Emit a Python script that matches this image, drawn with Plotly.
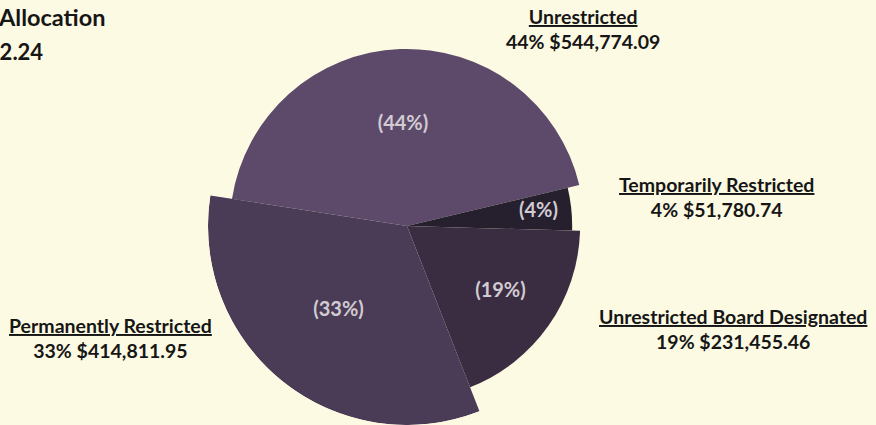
import plotly.graph_objects as go

categories = ["Unrestricted", "Temporarily Restricted", "Unrestricted Board Designated", "Permanently Restricted"]
amounts = [544774.09, 51780.74, 231455.46, 414811.95]
slice_radius = [178, 166, 174, 200]
slice_colors = ["#5d4a6b", "#261f2e", "#3a2d42", "#4a3b56"]
title_text = "Allocation"

label_r_frac = [0.57, 0.80, 0.66, 0.55]
# outer label positions in pixels (x center, y center)
label_pos_px = [(583, 29), (716, 197), (733, 328.5), (110, 338)]

W, H = 876, 425
BG = "#fdfae3"
FONT = "Lato"
total = sum(amounts)
pcts = [round(a / total * 100) for a in amounts]

spans = [a / total * 360 for a in amounts]
centers = []
acc = 0
for s in spans:
    centers.append(acc + s / 2)
    acc += s

fig = go.Figure()
fig.add_trace(go.Barpolar(
    r=slice_radius, theta=centers, width=spans,
    marker=dict(color=slice_colors, line=dict(width=0)),
    hoverinfo="skip", showlegend=False,
))
fig.add_trace(go.Scatterpolar(
    r=[f * r for f, r in zip(label_r_frac, slice_radius)], theta=centers,
    mode="text", text=[f"<b>({p}%)</b>" for p in pcts],
    textfont=dict(family=FONT, size=20, color="#d2cbd2"),
    hoverinfo="skip", showlegend=False,
))

annotations = []
for cat, amt, p, (px, py) in zip(categories, amounts, pcts, label_pos_px):
    annotations.append(dict(
        x=px / W, y=1 - py / H, xref="paper", yref="paper",
        xanchor="center", yanchor="middle", showarrow=False, align="center",
        text=f"<b><u>{cat}</u><br>{p}% ${amt:,.2f}</b>",
        font=dict(family=FONT, size=19.5, color="#161616"),
    ))
annotations.append(dict(
    x=107 / W, y=1 - 17 / H, xref="paper", yref="paper",
    xanchor="right", yanchor="middle", showarrow=False,
    text=f"<b>{title_text}</b>", font=dict(family=FONT, size=23.5, color="#161616"),
))
annotations.append(dict(
    x=45 / W, y=1 - 52 / H, xref="paper", yref="paper",
    xanchor="right", yanchor="middle", showarrow=False,
    text=f"<b>${total:,.2f}</b>", font=dict(family=FONT, size=22, color="#161616"),
))

cx, cy, R = 407, 226, 199
fig.update_layout(
    width=W, height=H, margin=dict(l=0, r=0, t=0, b=0),
    paper_bgcolor=BG, plot_bgcolor=BG,
    polar=dict(
        domain=dict(x=[(cx - R) / W, (cx + R) / W], y=[(H - cy - R) / H, (H - cy + R) / H]),
        bgcolor="rgba(0,0,0,0)", bargap=0,
        radialaxis=dict(visible=False, range=[0, 200]),
        angularaxis=dict(visible=False, rotation=171.2, direction="clockwise"),
    ),
    annotations=annotations,
    font=dict(family=FONT),
)
fig.write_html(
    "out.html",
    config={"displayModeBar": False},
    post_script="document.body.style.margin='0';document.body.style.background='" + BG + "';",
)
